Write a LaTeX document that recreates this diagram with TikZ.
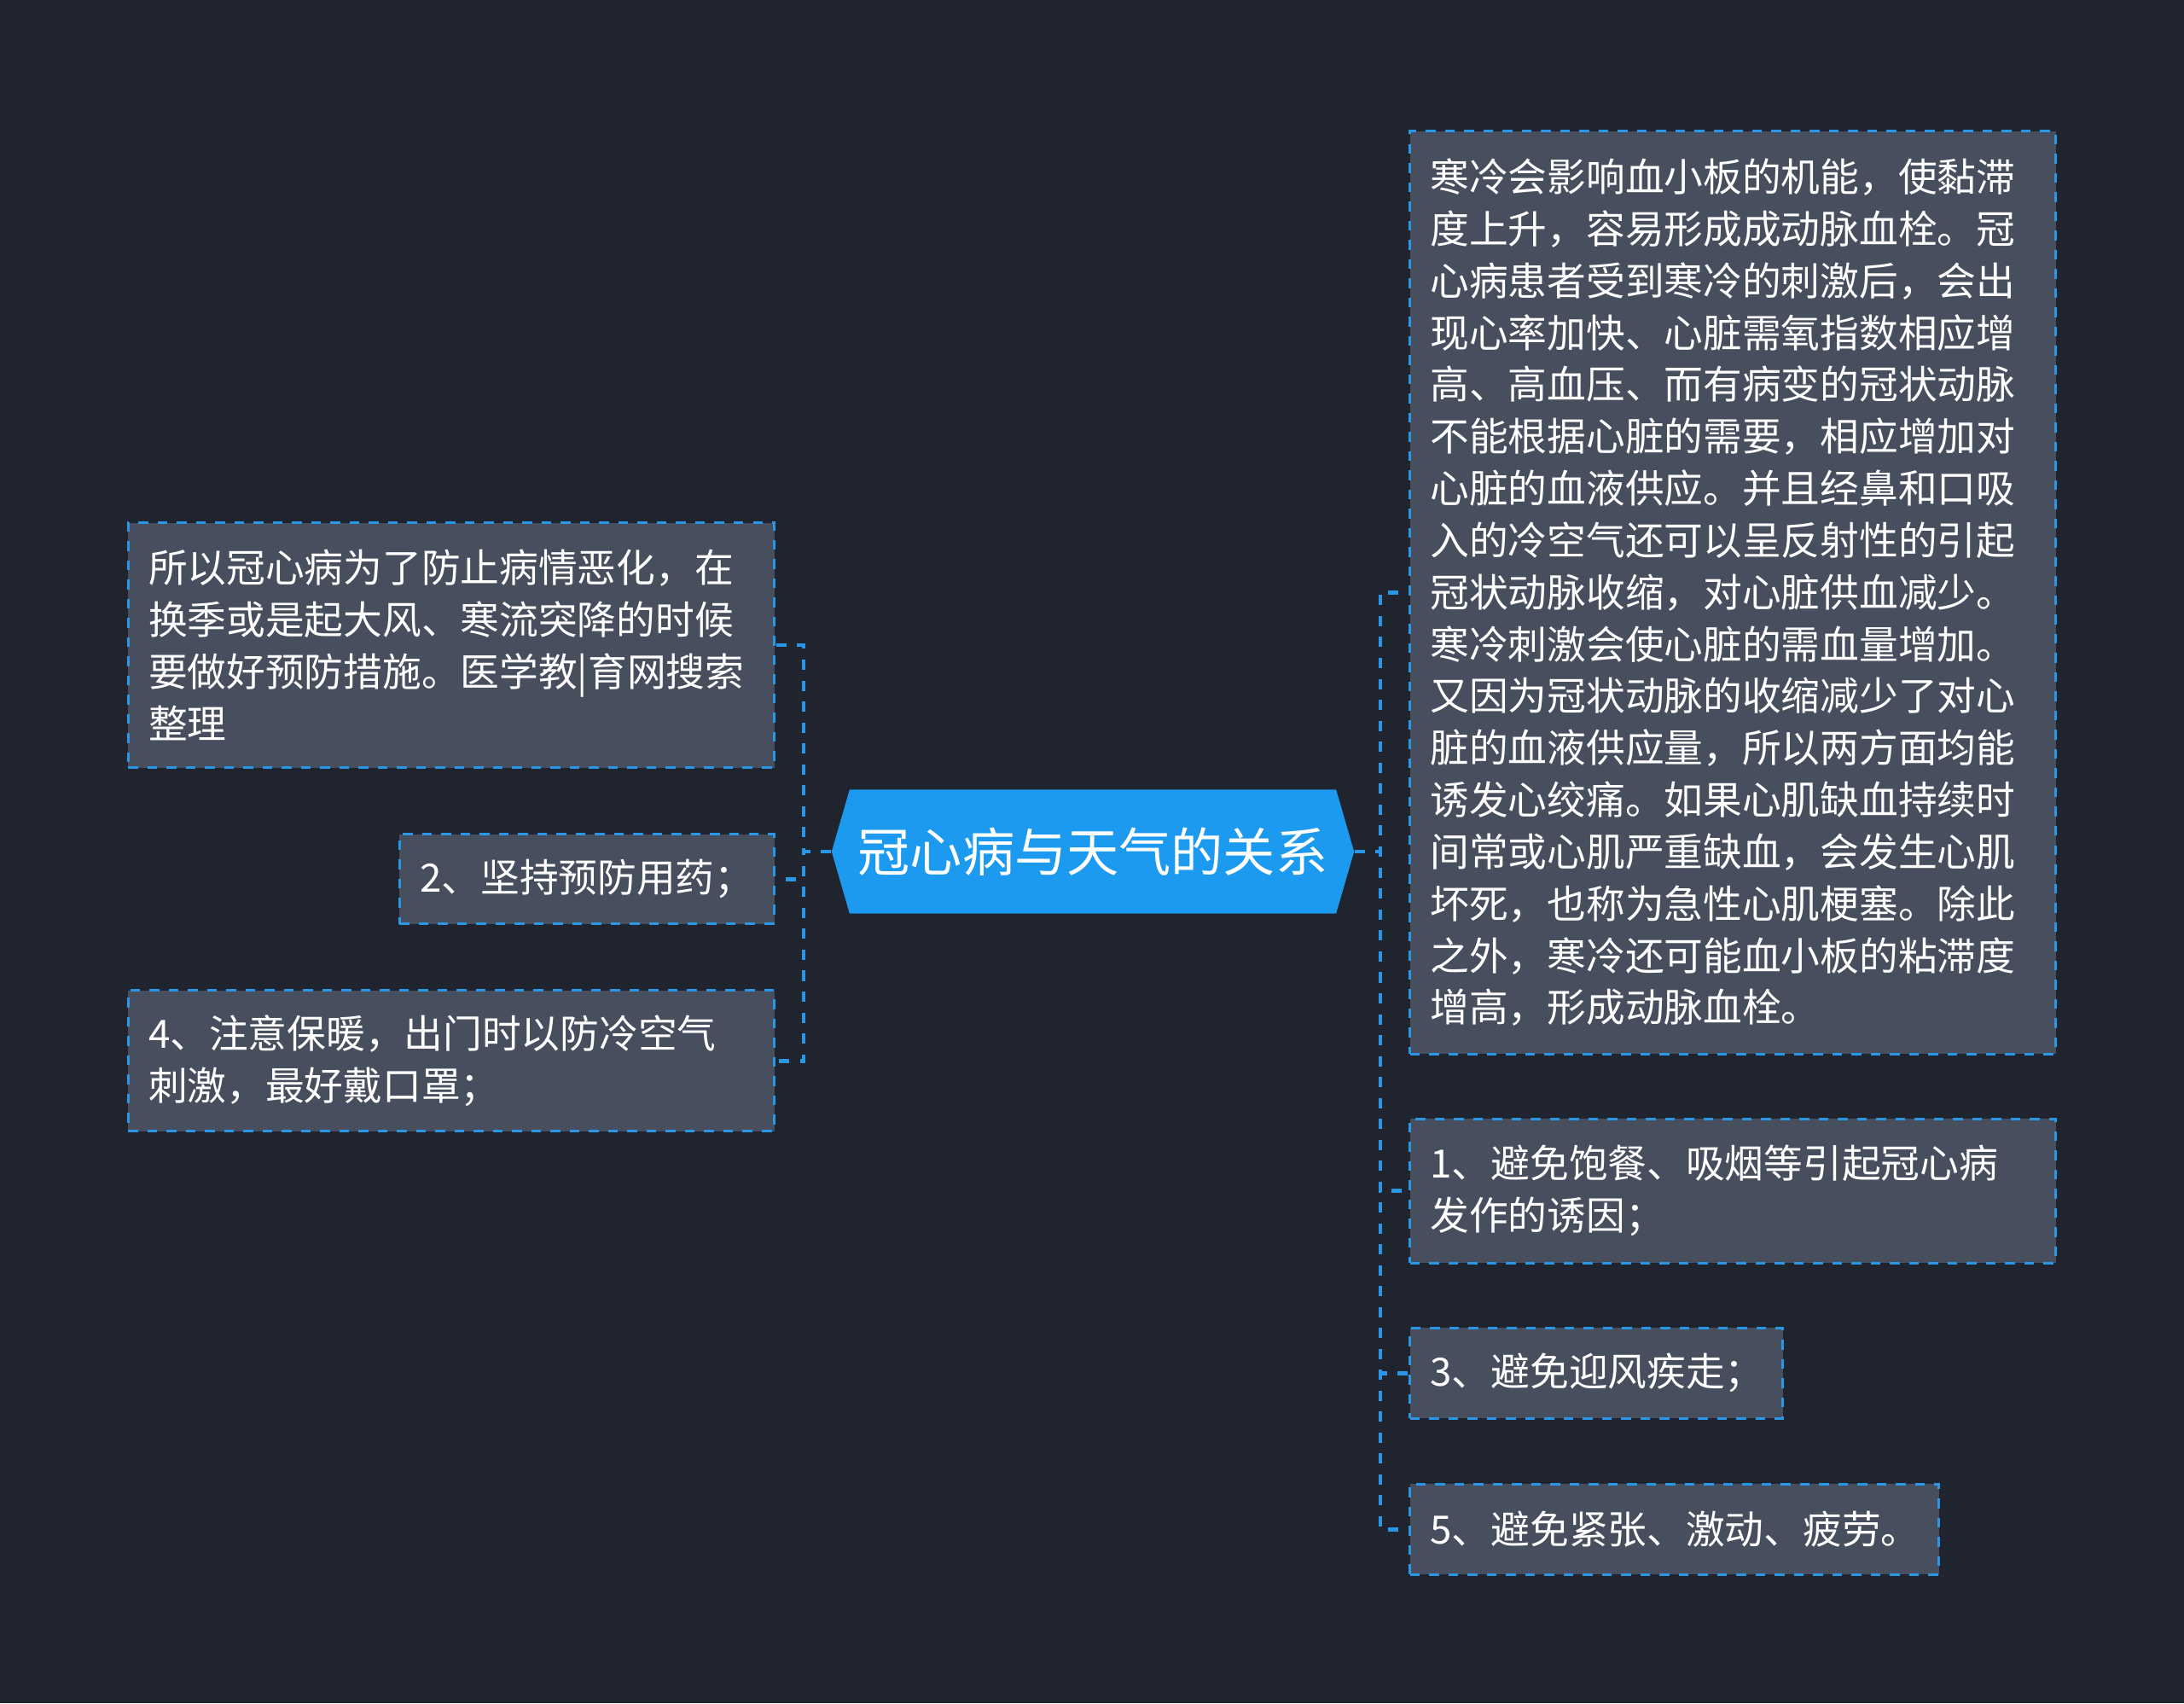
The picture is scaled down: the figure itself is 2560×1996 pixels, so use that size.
\documentclass[tikz,border=0pt]{standalone}
\usepackage{fontspec}
\setmainfont{Noto Sans CJK SC}
\usetikzlibrary{positioning}
\definecolor{Backdrop}{HTML}{20242F}
\definecolor{LeafFill}{HTML}{474E5D}
\definecolor{LinkBlue}{HTML}{2A96E6}
\definecolor{TopicBlue}{HTML}{1C9AEF}
\tikzset{
  link/.style={draw=LinkBlue, line width=1.3pt, dash pattern=on 1.2mm off 1.25mm},
  leaf/.style={draw=LinkBlue, fill=LeafFill, line width=0.85pt, dash pattern=on 1.15mm off 1.1mm,
    anchor=north west, align=left, text=white, inner xsep=2.4mm, inner ysep=0pt,
    font=\fontsize{13}{17.3}\selectfont},
  topic/.style={fill=Backdrop, text=white, inner sep=0pt, minimum width=6.12cm, minimum height=1.45cm,
    font=\fontsize{17.4}{20}\selectfont,
    path picture={\fill[TopicBlue] (path picture bounding box.west)
      -- ([xshift=2.1mm]path picture bounding box.north west)
      -- ([xshift=-2.1mm]path picture bounding box.north east)
      -- (path picture bounding box.east)
      -- ([xshift=-2.1mm]path picture bounding box.south east)
      -- ([xshift=2.1mm]path picture bounding box.south west) -- cycle;}},
}

\begin{document}
\begin{tikzpicture}[x=0.01cm, y=-0.01cm]
  \fill[Backdrop] (0,0) rectangle (2560,1996);

  \node[topic] (topic) at (1281,998) {冠心病与天气的关系};

  % right column
  \node[leaf, text width=7.09cm, minimum height=10.81cm] (cause) at (1651,152)
    {寒冷会影响血小板的机能，使黏滞\\度上升，容易形成成动脉血栓。冠\\心病患者受到寒冷的刺激后，会出\\现心率加快、心脏需氧指数相应增\\高、高血压、而有病变的冠状动脉\\不能根据心脏的需要，相应增加对\\心脏的血液供应。并且经鼻和口吸\\入的冷空气还可以呈反射性的引起\\冠状动脉收缩，对心脏供血减少。\\寒冷刺激会使心脏的需血量增加。\\又因为冠状动脉的收缩减少了对心\\脏的血液供应量，所以两方面均能\\诱发心绞痛。如果心肌缺血持续时\\间常或心肌严重缺血，会发生心肌\\坏死，也称为急性心肌梗塞。除此\\之外，寒冷还可能血小板的粘滞度\\增高，形成动脉血栓。};
  \node[leaf, text width=7.09cm, minimum height=1.69cm, below=7.3mm of cause.south west, anchor=north west] (avoidMeal)
    {1、避免饱餐、吸烟等引起冠心病\\发作的诱因；};
  \node[leaf, text width=3.89cm, minimum height=1.06cm, below=7.3mm of avoidMeal.south west, anchor=north west] (avoidWind)
    {3、避免迎风疾走；};
  \node[leaf, text width=5.72cm, minimum height=1.06cm, below=7.4mm of avoidWind.south west, anchor=north west] (avoidStress)
    {5、避免紧张、激动、疲劳。};

  % left column
  \node[leaf, text width=7.09cm, minimum height=2.87cm, anchor=north east] (prevent) at (909,611)
    {所以冠心病为了防止病情恶化，在\\换季或是起大风、寒流突降的时候\\要做好预防措施。医学教|育网搜索\\整理};
  \node[leaf, text width=3.91cm, minimum height=1.05cm, below=7.5mm of prevent.south east, anchor=north east] (medicine)
    {2、坚持预防用药；};
  \node[leaf, text width=7.09cm, minimum height=1.65cm, below=7.5mm of medicine.south east, anchor=north east] (warmth)
    {4、注意保暖，出门时以防冷空气\\刺激，最好戴口罩；};

  \coordinate (rightTrunk) at (1618,998);
  \coordinate (leftTrunk) at (942,998);
  \foreach \leafname in {cause,avoidMeal,avoidWind,avoidStress}
    \draw[link] (topic.east) -- (rightTrunk) |- (\leafname.west);
  \foreach \leafname in {prevent,medicine,warmth}
    \draw[link] (topic.west) -- (leftTrunk) |- (\leafname.east);
\end{tikzpicture}
\end{document}
